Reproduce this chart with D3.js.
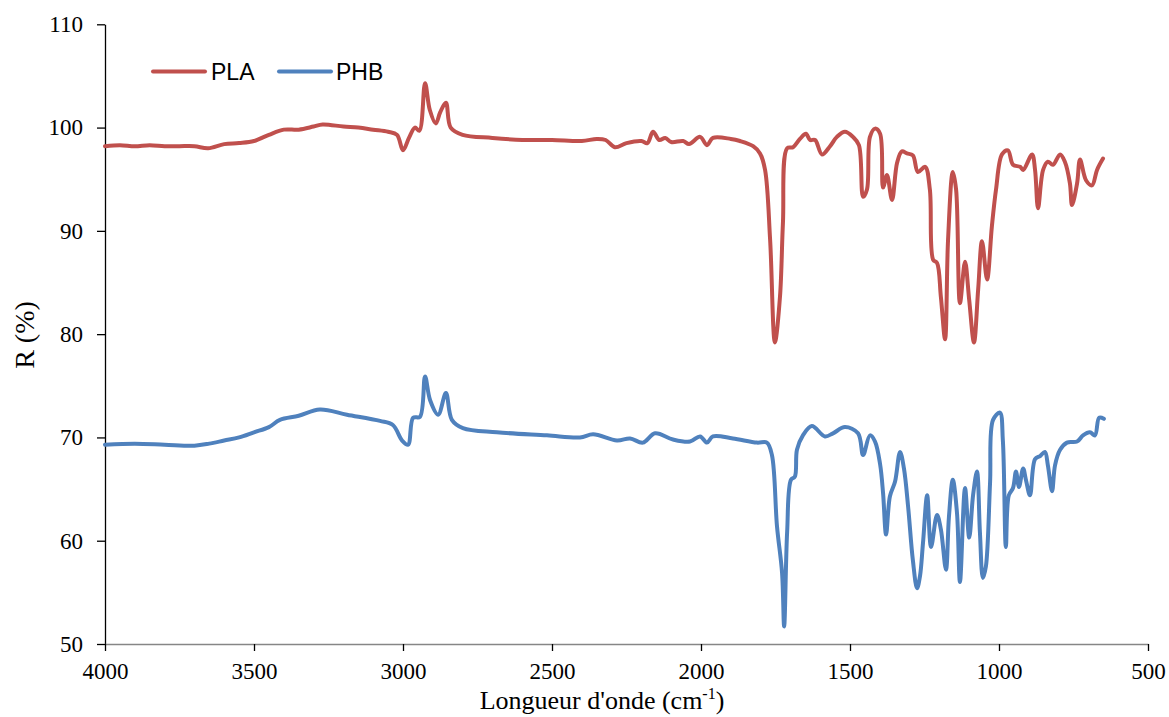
<!DOCTYPE html>
<html>
<head>
<meta charset="utf-8">
<script src="https://cdn.jsdelivr.net/npm/d3@7"></script>
<style>
  html, body { margin: 0; padding: 0; background: #fff; }
  svg { display: block; }
</style>
</head>
<body>
<svg id="chart" width="1169" height="717"></svg>
<script>
// ---- Data ----
const seriesNames = ["PLA", "PHB"];
const seriesColors = ["#C0504D", "#4F81BD"];
const xTicks = [4000, 3500, 3000, 2500, 2000, 1500, 1000, 500];
const yTicks = [50, 60, 70, 80, 90, 100, 110];

const plaWavenumber = [4000,3950,3900,3850,3800,3750,3700,3654,3600,3550,3500,3450,3400,3350,3300,3270,3200,3150,3100,3050,3020,3000,2980,2960,2945,2926,2910,2890,2875,2856,2840,2800,2700,2600,2500,2400,2350,2320,2289,2250,2200,2180,2161,2140,2120,2100,2060,2040,2003,1980,1960,1900,1869,1825,1802,1785,1768,1752,1735,1725,1711,1691,1668,1648,1634,1617,1594,1567,1544,1517,1490,1470,1456,1443,1433,1416,1399,1389,1376,1359,1342,1326,1309,1289,1272,1248,1232,1221,1208,1195,1181,1171,1155,1144,1131,1114,1100,1084,1070,1057,1040,1024,1010,990,970,953,929,919,889,879,869,852,836,819,795,779,762,755,738,728,708,688,671,651];
const plaR = [98.2,98.3,98.2,98.3,98.2,98.2,98.2,98.0,98.4,98.5,98.7,99.3,99.8,99.8,100.1,100.3,100.1,100.0,99.8,99.6,99.3,97.8,99.0,100.0,99.7,104.3,101.7,100.4,101.5,102.4,100.0,99.3,99.0,98.8,98.8,98.7,98.9,98.8,98.1,98.5,98.7,98.5,99.6,98.8,99.0,98.6,98.7,98.4,99.1,98.3,99.0,98.9,98.7,98.2,97.5,95.9,89.1,79.2,83.6,90.8,98.0,98.1,98.9,99.4,98.8,98.8,97.4,98.2,99.1,99.6,99.1,98.3,93.3,94.0,99.1,99.9,99.4,94.2,95.4,93.0,96.6,97.7,97.5,97.3,95.7,96.2,94.0,87.2,86.9,83.6,79.5,89.1,95.7,94.0,83.0,87.0,83.3,79.2,84.3,89.0,85.3,90.4,94.0,97.4,97.8,96.4,96.2,95.9,97.4,95.9,92.2,95.9,96.7,96.4,97.4,96.7,94.6,92.5,94.6,96.9,94.9,94.4,95.9,97.0];

const phbWavenumber = [4000,3900,3800,3700,3650,3600,3550,3500,3450,3413,3350,3279,3188,3077,3034,3003,2983,2966,2943,2926,2909,2882,2856,2836,2799,2685,2517,2406,2362,2282,2238,2195,2154,2094,2037,2003,1980,1960,1893,1812,1779,1762,1745,1728,1721,1711,1698,1685,1678,1658,1628,1584,1557,1517,1473,1456,1433,1416,1399,1389,1379,1366,1349,1332,1319,1305,1289,1275,1265,1255,1241,1228,1208,1195,1178,1168,1155,1141,1131,1114,1100,1087,1074,1064,1054,1044,1030,1020,997,987,977,967,953,943,933,919,909,896,879,862,846,836,822,812,795,772,738,718,695,678,664,648];
const phbR = [69.3,69.4,69.3,69.2,69.4,69.7,70.0,70.5,71.0,71.7,72.1,72.7,72.2,71.6,71.2,69.7,69.3,71.9,72.0,75.9,73.6,72.2,74.3,71.7,70.9,70.5,70.2,70.0,70.3,69.7,69.9,69.5,70.4,69.8,69.6,70.1,69.5,70.1,69.9,69.5,69.5,68.3,61.4,56.9,51.7,60.8,65.9,66.2,68.8,70.2,71.1,70.1,70.4,71.0,70.4,68.3,70.2,69.6,67.4,64.6,60.6,64.3,65.7,68.6,67.0,63.3,58.1,55.4,56.6,59.8,64.4,59.4,62.5,61.1,57.2,62.3,65.9,62.7,56.0,65.1,60.3,64.4,66.7,60.8,56.4,57.5,65.6,71.7,72.4,69.7,59.4,64.4,65.1,66.7,65.2,67.0,65.8,64.4,67.9,68.2,68.6,67.3,64.8,67.3,68.8,69.5,69.6,70.2,70.5,70.2,71.9,71.8];

const xLabel = "Longueur d'onde (cm";
const xLabelSup = "-1";
const yLabel = "R (%)";

// ---- Layout ----
const svg = d3.select("#chart");
const mLeft = 105, mRight = 1148, mTop = 24.3, mBottom = 644;

const x = d3.scaleLinear().domain([4000, 500]).range([mLeft, mRight]);
const y = d3.scaleLinear().domain([50, 110]).range([mBottom, mTop]);

const serif = "'Liberation Serif', 'Times New Roman', serif";
const sans = "'Liberation Sans', Arial, sans-serif";

// Y axis
const yAxis = svg.append("g")
  .attr("transform", `translate(${mLeft},0)`)
  .call(d3.axisLeft(y).tickValues(yTicks).tickSize(8).tickSizeOuter(0).tickPadding(14).tickFormat(d3.format("d")));
yAxis.select(".domain").attr("stroke", "#000").attr("stroke-width", 1.3);
yAxis.selectAll(".tick line").attr("stroke", "#000").attr("stroke-width", 1.3);
yAxis.selectAll(".tick text").attr("font-family", serif).attr("font-size", 23).attr("fill", "#000");

// X axis
const xAxis = svg.append("g")
  .attr("transform", `translate(0,${mBottom})`)
  .call(d3.axisBottom(x).tickValues(xTicks).tickSize(7).tickSizeOuter(0).tickPadding(12).tickFormat(d3.format("d")));
xAxis.select(".domain").attr("stroke", "#868686").attr("stroke-width", 1.6);
xAxis.selectAll(".tick line").attr("stroke", "#000").attr("stroke-width", 1.3);
xAxis.selectAll(".tick text").attr("font-family", serif).attr("font-size", 23).attr("fill", "#000");

// Lines
const lineGen = d3.line().x(d => x(d[0])).y(d => y(d[1])).curve(d3.curveCatmullRom.alpha(0.5));

const seriesData = [
  d3.zip(plaWavenumber, plaR),
  d3.zip(phbWavenumber, phbR)
];

seriesData.forEach((data, i) => {
  svg.append("path")
    .datum(data)
    .attr("fill", "none")
    .attr("stroke", seriesColors[i])
    .attr("stroke-width", 4)
    .attr("stroke-linejoin", "round")
    .attr("stroke-linecap", "round")
    .attr("d", lineGen);
});

// Legend
const legendItems = [
  { x1: 153, x2: 205, tx: 211 },
  { x1: 279, x2: 331, tx: 336 }
];
legendItems.forEach((it, i) => {
  svg.append("line")
    .attr("x1", it.x1).attr("x2", it.x2)
    .attr("y1", 71.5).attr("y2", 71.5)
    .attr("stroke", seriesColors[i]).attr("stroke-width", 4).attr("stroke-linecap", "round");
  svg.append("text")
    .attr("x", it.tx).attr("y", 79.5)
    .attr("font-family", sans).attr("font-size", 23).attr("fill", "#000")
    .text(seriesNames[i]);
});

// Axis titles
const xt = svg.append("text")
  .attr("x", 602).attr("y", 709)
  .attr("text-anchor", "middle")
  .attr("font-family", serif).attr("font-size", 26).attr("fill", "#000");
xt.append("tspan").text(xLabel);
xt.append("tspan").attr("font-size", 16).attr("dy", -10).text(xLabelSup);
xt.append("tspan").attr("dy", 10).text(")");

svg.append("text")
  .attr("transform", "translate(34,335) rotate(-90)")
  .attr("text-anchor", "middle")
  .attr("font-family", serif).attr("font-size", 28).attr("fill", "#000")
  .text(yLabel);
</script>
</body>
</html>
